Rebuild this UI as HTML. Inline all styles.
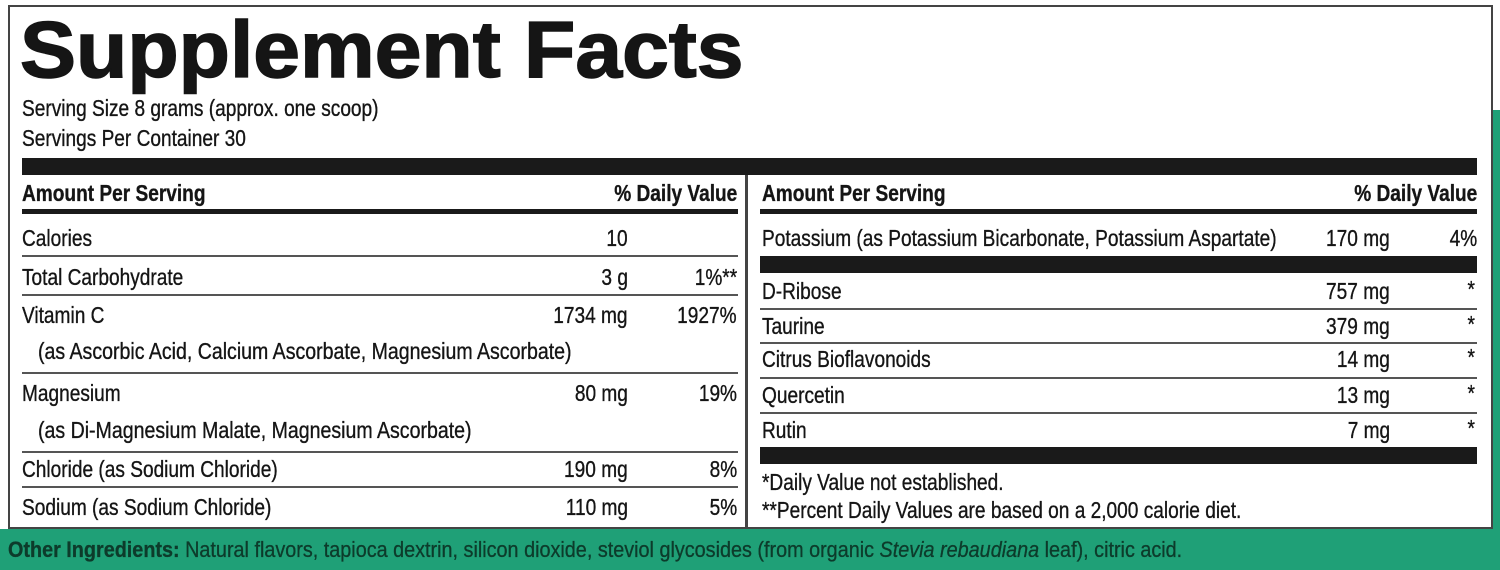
<!DOCTYPE html>
<html><head><meta charset="utf-8"><style>
body{margin:0;width:1500px;height:570px;overflow:hidden;background:#fff;position:relative;font-family:"Liberation Sans",sans-serif;color:#151515}
.t{position:absolute;white-space:nowrap;font-size:23px;line-height:26px;transform:scaleX(.83);transform-origin:left center;-webkit-text-stroke:0.35px #151515}
.r{transform-origin:right center;text-align:right}
.b{font-weight:bold}
.bar{position:absolute;background:#1a1a1a}
.ln{position:absolute;height:2px;background:#555}
</style></head><body>
<div style="position:absolute;left:1493px;top:110px;width:7px;height:460px;background:#1fa077"></div>
<div style="position:absolute;left:0;top:529px;width:1500px;height:41px;background:#1fa077"></div>
<div style="position:absolute;left:8px;top:5px;width:1481px;height:520px;border:2px solid #444"></div>
<div class="t b" style="left:20px;top:10px;font-size:80px;line-height:80px;transform:scaleX(1.05);-webkit-text-stroke:1.5px #151515">Supplement Facts</div>
<div class="t" style="left:22px;top:95px">Serving Size 8 grams (approx. one scoop)</div>
<div class="t" style="left:22px;top:125px">Servings Per Container 30</div>
<div class="bar" style="left:22px;top:158px;width:1455px;height:17px"></div>
<div class="bar" style="left:745px;top:175px;width:3px;height:352px;background:#444"></div>
<div class="bar" style="left:22px;top:209px;width:716px;height:5px"></div>
<div class="bar" style="left:760px;top:209px;width:717px;height:5px"></div>
<div class="t b" style="left:22px;top:180px">Amount Per Serving</div>
<div class="t b r" style="right:763px;top:180px">% Daily Value</div>
<div class="t b" style="left:762px;top:180px">Amount Per Serving</div>
<div class="t b r" style="right:23px;top:180px">% Daily Value</div>
<div class="t" style="left:22px;top:225px">Calories</div><div class="t r" style="right:872px;top:225px">10</div>
<div class="ln" style="left:22px;top:255px;width:716px"></div>
<div class="t" style="left:22px;top:264px">Total Carbohydrate</div><div class="t r" style="right:872px;top:264px">3 g</div><div class="t r" style="right:763px;top:264px">1%**</div>
<div class="ln" style="left:22px;top:294px;width:716px"></div>
<div class="t" style="left:22px;top:302px">Vitamin C</div><div class="t r" style="right:872px;top:302px">1734 mg</div><div class="t r" style="right:763px;top:302px">1927%</div>
<div class="t" style="left:38px;top:338px;transform:scaleX(.85)">(as Ascorbic Acid, Calcium Ascorbate, Magnesium Ascorbate)</div>
<div class="ln" style="left:22px;top:372px;width:716px"></div>
<div class="t" style="left:22px;top:380px">Magnesium</div><div class="t r" style="right:872px;top:380px">80 mg</div><div class="t r" style="right:763px;top:380px">19%</div>
<div class="t" style="left:38px;top:417px;transform:scaleX(.85)">(as Di-Magnesium Malate, Magnesium Ascorbate)</div>
<div class="ln" style="left:22px;top:451px;width:716px"></div>
<div class="t" style="left:22px;top:456px">Chloride (as Sodium Chloride)</div><div class="t r" style="right:872px;top:456px">190 mg</div><div class="t r" style="right:763px;top:456px">8%</div>
<div class="ln" style="left:22px;top:486px;width:716px"></div>
<div class="t" style="left:22px;top:494px">Sodium (as Sodium Chloride)</div><div class="t r" style="right:872px;top:494px">110 mg</div><div class="t r" style="right:763px;top:494px">5%</div>
<div class="t" style="left:762px;top:225px">Potassium (as Potassium Bicarbonate, Potassium Aspartate)</div><div class="t r" style="right:110px;top:225px">170 mg</div><div class="t r" style="right:23px;top:225px">4%</div>
<div class="bar" style="left:760px;top:256px;width:717px;height:17px"></div>
<div class="t" style="left:762px;top:278px">D-Ribose</div><div class="t r" style="right:110px;top:278px">757 mg</div><div class="t r" style="right:25px;top:276px">*</div>
<div class="ln" style="left:760px;top:308px;width:717px"></div>
<div class="t" style="left:762px;top:313px">Taurine</div><div class="t r" style="right:110px;top:313px">379 mg</div><div class="t r" style="right:25px;top:311px">*</div>
<div class="ln" style="left:760px;top:342px;width:717px"></div>
<div class="t" style="left:762px;top:346px">Citrus Bioflavonoids</div><div class="t r" style="right:110px;top:346px">14 mg</div><div class="t r" style="right:25px;top:344px">*</div>
<div class="ln" style="left:760px;top:377px;width:717px"></div>
<div class="t" style="left:762px;top:382px">Quercetin</div><div class="t r" style="right:110px;top:382px">13 mg</div><div class="t r" style="right:25px;top:380px">*</div>
<div class="ln" style="left:760px;top:412px;width:717px"></div>
<div class="t" style="left:762px;top:417px">Rutin</div><div class="t r" style="right:110px;top:417px">7 mg</div><div class="t r" style="right:25px;top:415px">*</div>
<div class="bar" style="left:760px;top:447px;width:717px;height:17px"></div>
<div class="t" style="left:762px;top:469px">*Daily Value not established.</div>
<div class="t" style="left:762px;top:497px">**Percent Daily Values are based on a 2,000 calorie diet.</div>
<div class="t" style="left:8px;top:537px;color:#0d3b2b;font-size:22px;transform:scaleX(.9);-webkit-text-stroke:0.3px #0d3b2b"><b>Other Ingredients:</b> Natural flavors, tapioca dextrin, silicon dioxide, steviol glycosides (from organic <i>Stevia rebaudiana</i> leaf), citric acid.</div>
</body></html>
